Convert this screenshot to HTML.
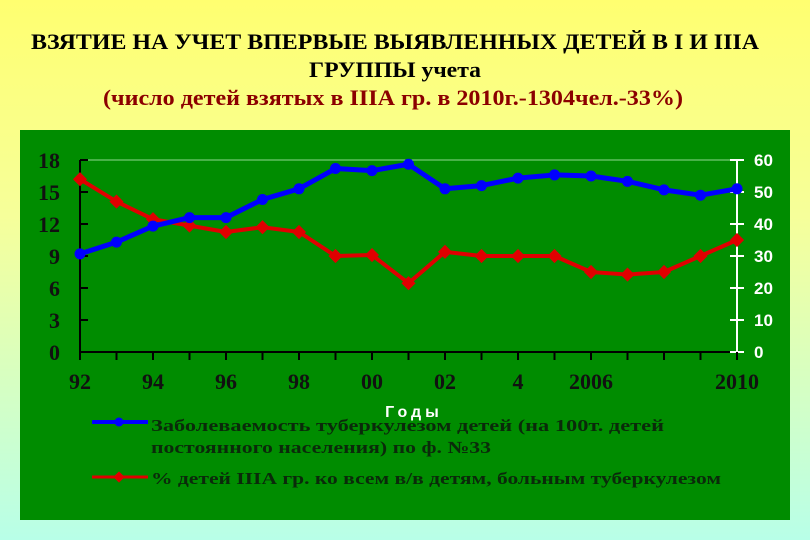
<!DOCTYPE html>
<html><head><meta charset="utf-8"><style>
body{margin:0;width:810px;height:540px;overflow:hidden;background:linear-gradient(#ffff70 0%,#f6ff9a 40%,#b8ffe8 100%);font-family:"Liberation Serif",serif}
svg{position:absolute;left:0;top:0}
</style></head><body>
<svg width="810" height="540">
<g font-family="Liberation Serif, serif" font-weight="bold" text-anchor="middle">
<text x="395" y="49" font-size="22" textLength="728" lengthAdjust="spacingAndGlyphs" fill="#000">ВЗЯТИЕ НА УЧЕТ ВПЕРВЫЕ ВЫЯВЛЕННЫХ ДЕТЕЙ В I И IIIА</text>
<text x="395" y="77" font-size="22" textLength="172" lengthAdjust="spacingAndGlyphs" fill="#000">ГРУППЫ учета</text>
<text x="393" y="105" font-size="22" textLength="580" lengthAdjust="spacingAndGlyphs" fill="#8b0000">(число детей взятых в IIIА гр. в 2010г.-1304чел.-33%)</text>
</g>
<rect x="20" y="130" width="770" height="390" fill="#008c00"/>
<g id="plot"></g>
</svg>
<script>
const years=["92","93","94","95","96","97","98","99","00","01","02","03","4","05","2006","07","08","09","2010"];
const xLabels=["92","94","96","98","00","02","4","2006","2010"];
const xLabelIdx=[0,2,4,6,8,10,12,14,18];
const incidence=[9.2,10.3,11.8,12.6,12.6,14.3,15.3,17.2,17.0,17.6,15.3,15.6,16.3,16.6,16.5,16.0,15.2,14.7,15.3];
const percent=[54,47,41.5,39.5,37.5,39,37.5,30,30.3,21.5,31.3,30,30,30,25,24.2,25,30,35];
const leftTicks=[0,3,6,9,12,15,18];
const rightTicks=[0,10,20,30,40,50,60];
const NS="http://www.w3.org/2000/svg";
const g=document.getElementById('plot');
const X0=80,X1=737,Y0=352,Y1=160;
const x=i=>X0+(X1-X0)*i/(years.length-1);
const yL=v=>Y0-(Y0-Y1)*v/18;
const yR=v=>Y0-(Y0-Y1)*v/60;
function el(t,a){const e=document.createElementNS(NS,t);for(const k in a)e.setAttribute(k,a[k]);g.appendChild(e);return e;}
let e=el('line',{x1:X0,y1:Y1,x2:X1,y2:Y1,stroke:'#8fd88f','stroke-width':1});


e=el('line',{x1:X0,y1:Y1,x2:X0,y2:Y0+8,stroke:'#000','stroke-width':2});


e=el('line',{x1:X0,y1:Y0,x2:X1,y2:Y0,stroke:'#000','stroke-width':2});


e=el('line',{x1:X1,y1:Y1,x2:X1,y2:Y0,stroke:'#fff','stroke-width':2});


leftTicks.forEach(v=>{
 el('line',{x1:X0,y1:yL(v),x2:X0+8,y2:yL(v),stroke:'#000','stroke-width':2});
 const t=el('text',{x:X0-20,y:yL(v)+8,'font-size':22,'font-weight':'bold','font-family':'Liberation Serif, serif','text-anchor':'end',fill:'#111'});
 t.textContent=v;
 
 
});
rightTicks.forEach(v=>{
 el('line',{x1:X1-7,y1:yR(v),x2:X1+7,y2:yR(v),stroke:'#fff','stroke-width':2});
 const t=el('text',{x:X1+17,y:yR(v)+6,'font-size':17,'font-weight':'bold','font-family':'Liberation Sans, sans-serif',fill:'#fff'});
 t.textContent=v;
 
 
});
years.forEach((y,i)=>{el('line',{x1:x(i),y1:Y0,x2:x(i),y2:Y0+8,stroke:'#000','stroke-width':2});});
xLabels.forEach((l,k)=>{
 const t=el('text',{x:x(xLabelIdx[k]),y:389,'font-size':22,'font-weight':'bold','font-family':'Liberation Serif, serif','text-anchor':'middle',fill:'#111'});
 t.textContent=l;
 
 
});
function series(vals,fy,color,w,name,marker){
 const p=el('polyline',{points:vals.map((v,i)=>x(i)+','+fy(v)).join(' '),fill:'none',stroke:color,'stroke-width':w,'stroke-linejoin':'round'});
 
 
 vals.forEach((v,i)=>{
  let m;
  if(marker==='c')m=el('circle',{cx:x(i),cy:fy(v),r:5.5,fill:color});
  else m=el('rect',{x:x(i)-5,y:fy(v)-5,width:10,height:10,fill:color,transform:`rotate(45 ${x(i)} ${fy(v)})`});
  
  
 });
}
series(percent,yR,'#e00000',4,'percent-series','d');
series(incidence,yL,'#0000ff',5,'incidence-series','c');
e=el('text',{x:414,y:417,'font-size':16,'font-weight':'bold','font-family':'Liberation Sans, sans-serif','text-anchor':'middle',fill:'#fff','letter-spacing':4});
e.textContent='Годы';


el('line',{x1:92,y1:422,x2:148,y2:422,stroke:'#0000ff','stroke-width':4});
el('circle',{cx:119,cy:422,r:4.5,fill:'#0000ff'});
el('line',{x1:92,y1:477,x2:148,y2:477,stroke:'#e00000','stroke-width':3});
el('rect',{x:115,y:473,width:8,height:8,fill:'#e00000',transform:'rotate(45 119 477)'});
const leg=[["Заболеваемость туберкулезом детей (на 100т. детей",151,431,513],["постоянного населения) по ф. №33",151,453,340],["% детей IIIА гр. ко всем в/в детям, больным туберкулезом",151,484,570]];
leg.forEach(l=>{
 const t=el('text',{x:l[1],y:l[2],'font-size':17,'font-weight':'bold','font-family':'Liberation Serif, serif',fill:'#0a2a0a',textLength:l[3],lengthAdjust:'spacingAndGlyphs'});
 t.textContent=l[0];
 
 
});
</script>
</body></html>
